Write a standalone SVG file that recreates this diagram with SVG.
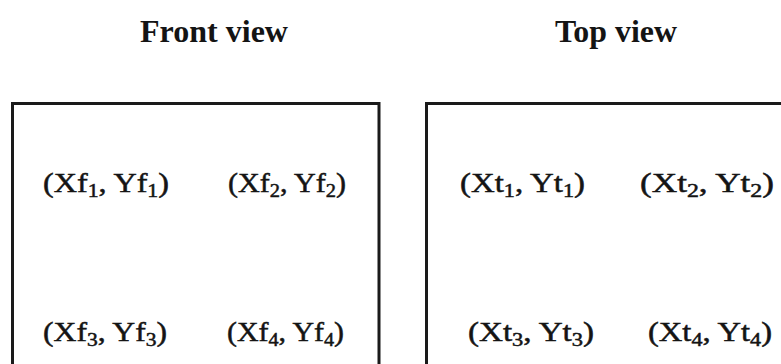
<svg xmlns="http://www.w3.org/2000/svg" width="781" height="364" viewBox="0 0 781 364">
<style>
.title{font-family:"Liberation Serif","Times New Roman",serif;font-weight:bold;font-size:31px;fill:#141414}
.lbl{font-family:"Liberation Serif","Times New Roman",serif;font-size:28px;fill:#141414;stroke:#141414;stroke-width:0.5}
.sub{font-size:19px}
.box{fill:none;stroke:#1a1a1a;stroke-width:3}
</style>
<rect width="781" height="364" fill="#ffffff"/>
<g id="front-view">
<text class="title" x="140" y="42" textLength="148" lengthAdjust="spacingAndGlyphs">Front view</text>
<path class="box" d="M12.5,370 V103.5 H379 V370"/>
<text class="lbl" x="43" y="192" textLength="126" lengthAdjust="spacingAndGlyphs">(Xf<tspan class="sub" dy="5">1</tspan><tspan dy="-5">, Yf</tspan><tspan class="sub" dy="5">1</tspan><tspan dy="-5">)</tspan></text>
<text class="lbl" x="228" y="192" textLength="118" lengthAdjust="spacingAndGlyphs">(Xf<tspan class="sub" dy="5">2</tspan><tspan dy="-5">, Yf</tspan><tspan class="sub" dy="5">2</tspan><tspan dy="-5">)</tspan></text>
<text class="lbl" x="43" y="341" textLength="124" lengthAdjust="spacingAndGlyphs">(Xf<tspan class="sub" dy="5">3</tspan><tspan dy="-5">, Yf</tspan><tspan class="sub" dy="5">3</tspan><tspan dy="-5">)</tspan></text>
<text class="lbl" x="227" y="341" textLength="117" lengthAdjust="spacingAndGlyphs">(Xf<tspan class="sub" dy="5">4</tspan><tspan dy="-5">, Yf</tspan><tspan class="sub" dy="5">4</tspan><tspan dy="-5">)</tspan></text>
</g>
<g id="top-view">
<text class="title" x="555" y="42" textLength="122" lengthAdjust="spacingAndGlyphs">Top view</text>
<path class="box" d="M426.5,370 V103.5 H790"/>
<text class="lbl" x="460" y="192" textLength="125" lengthAdjust="spacingAndGlyphs">(Xt<tspan class="sub" dy="5">1</tspan><tspan dy="-5">, Yt</tspan><tspan class="sub" dy="5">1</tspan><tspan dy="-5">)</tspan></text>
<text class="lbl" x="640" y="192" textLength="134" lengthAdjust="spacingAndGlyphs">(Xt<tspan class="sub" dy="5">2</tspan><tspan dy="-5">, Yt</tspan><tspan class="sub" dy="5">2</tspan><tspan dy="-5">)</tspan></text>
<text class="lbl" x="468" y="341" textLength="126" lengthAdjust="spacingAndGlyphs">(Xt<tspan class="sub" dy="5">3</tspan><tspan dy="-5">, Yt</tspan><tspan class="sub" dy="5">3</tspan><tspan dy="-5">)</tspan></text>
<text class="lbl" x="648" y="341" textLength="124" lengthAdjust="spacingAndGlyphs">(Xt<tspan class="sub" dy="5">4</tspan><tspan dy="-5">, Yt</tspan><tspan class="sub" dy="5">4</tspan><tspan dy="-5">)</tspan></text>
</g>
<g id="connectors"/>
</svg>
